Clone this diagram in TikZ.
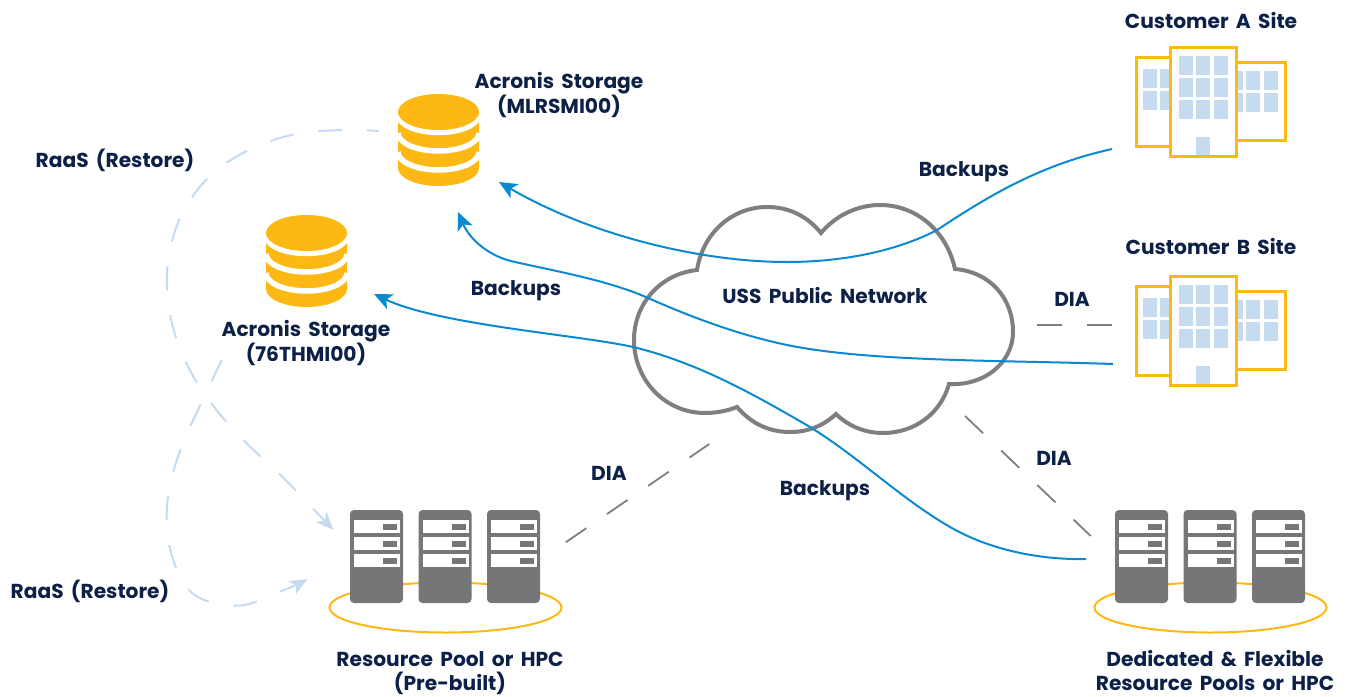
\documentclass[tikz,border=0pt]{standalone}
\usepackage{fontspec}
\setmainfont{Poppins}[UprightFont=*,BoldFont=* Bold,WordSpace=1.7]
\usetikzlibrary{arrows.meta}
\definecolor{navy}{HTML}{0D2148}
\definecolor{goldc}{HTML}{FDB813}
\definecolor{paleb}{HTML}{C6DAF0}
\definecolor{blueline}{HTML}{0A8AD0}
\definecolor{rackg}{HTML}{767678}
\definecolor{cloudg}{HTML}{7F7F7F}
\tikzset{
  x=1pt,y=-1pt,
  lab/.style={text=navy,font=\fontsize{20.2}{25}\selectfont\bfseries,align=center,inner sep=0pt,anchor=base},
  bluecurve/.style={draw=blueline,line width=2pt,-{Stealth[length=18pt,width=16pt,inset=4.5pt]}},
  palecurve/.style={draw=paleb,line width=2pt,dash pattern=on 24pt off 25pt,-{Stealth[length=18pt,width=15pt,inset=5pt]}},
  diaLine/.style={draw=cloudg,line width=1.8pt,dash pattern=on 25pt off 25pt},
  win/.style={fill=paleb,draw=none},
  pics/bld/.style={code={
    \draw[goldc,line width=3pt,fill=white] (-34,10) rectangle (0,99);
    \draw[goldc,line width=3pt,fill=white] (66,15) rectangle (115,93);
    \foreach \xx in {-27,-10}\foreach \yy in {22,44}\fill[win] (\xx,\yy) rectangle ++(14,19);
    \foreach \xx in {59,76,94}\foreach \yy in {24,46}\fill[win] (\xx,\yy) rectangle ++(14,19);
    \draw[goldc,line width=3pt,fill=white] (0,0) rectangle (66,109);
    \foreach \xx in {9,26,44}\foreach \yy in {9,31,53}\fill[win] (\xx,\yy) rectangle ++(14,19);
    \fill[win] (26,90) rectangle ++(14,18);
  }},
  pics/rack/.style={code={
    \fill[rackg,rounded corners=4pt] (0,0) rectangle (53,93);
    \foreach \yy in {10,27,44}{
      \fill[white] (4,\yy) rectangle ++(46,13);
      \fill[rackg] (33,\yy+4) rectangle ++(14,6);
    }
  }},
  pics/pool/.style={code={
    \draw[goldc,line width=2pt] (95.5,97.5) ellipse [x radius=116,y radius=25];
    \pic at (0,0) {rack};
    \pic at (68.5,0) {rack};
    \pic at (137,0) {rack};
  }},
  pics/cyl/.style={code={
    \fill[goldc] (-40.5,18) -- (-40.5,74) arc[start angle=180,end angle=0,x radius=40.5,y radius=18] -- (40.5,18) -- cycle;
    \foreach \yy in {20.5,39,58}
      \draw[white,line width=5.5pt] (-40.5,\yy) arc[start angle=180,end angle=0,x radius=40.5,y radius=18];
    \fill[goldc] (0,18) ellipse [x radius=40.5,y radius=18];
  }},
}
\begin{document}
\begin{tikzpicture}
\useasboundingbox (0,0) rectangle (1348,696);
% cloud
\draw[cloudg,line width=4pt,miter limit=10]
  (697,270) .. controls (703,232) and (733,207) .. (767,207)
  .. controls (790,207) and (808,217) .. (821,233)
  .. controls (835,216) and (857,205) .. (880,205)
  .. controls (917,205) and (947,232) .. (955,269)
  .. controls (990,272) and (1013,298) .. (1013,332)
  .. controls (1013,362) and (985,386) .. (949,384)
  .. controls (941,413) and (915,433) .. (883,433)
  .. controls (865,433) and (848,426) .. (836,414)
  .. controls (823,426) and (808,432) .. (790,432)
  .. controls (767,432) and (750,422) .. (737,407)
  .. controls (727,411) and (716,413) .. (705,413)
  .. controls (665,413) and (634,380) .. (634,340)
  .. controls (634,304) and (660,274) .. (697,270) -- cycle;
% pictograms
\pic (bldA) at (1170,47) {bld};
\pic (bldB) at (1170,276) {bld};
\pic (poolL) at (350,510) {pool};
\pic (poolR) at (1115,510) {pool};
\pic (cylM) at (438.5,94) {cyl};
\pic (cyl7) at (306.5,215) {cyl};
% labels
\node[lab] (tA) at (1211,28) {Customer A Site};
\node[lab] (tB) at (1211,254) {Customer B Site};
\node[lab] (tM) at (559,113) {Acronis Storage\\(MLRSMI00)};
\node[lab] (t7) at (306,361) {Acronis Storage\\(76THMI00)};
\node[lab] (r1) at (115,167) {RaaS (Restore)};
\node[lab] (r2) at (90,598) {RaaS (Restore)};
\node[lab] (b1) at (964,176) {Backups};
\node[lab] (b2) at (516,295) {Backups};
\node[lab] (b3) at (825,495) {Backups};
\node[lab] (d1) at (609,480) {DIA};
\node[lab] (d2) at (1072,306) {DIA};
\node[lab] (d3) at (1054,465) {DIA};
\node[lab] (uss) at (825,303) {USS Public Network};
\node[lab] (tL) at (450,690) {Resource Pool or HPC\\[-1pt](Pre-built)};
\node[lab] (tR) at (1215,690) {Dedicated \& Flexible\\[-1pt]Resource Pools or HPC};
% connector ends
\coordinate (aOut) at (1112,149);
\coordinate (mIn1) at (499,182);
\coordinate (bOut) at (1113,364);
\coordinate (mIn2) at (458,212);
\coordinate (rOut) at (1086,559);
\coordinate (sIn) at (374,294);
\coordinate (mRaas) at (379,131);
\coordinate (pIn1) at (333.5,530);
\coordinate (sRaas) at (221.7,360);
\coordinate (pIn2) at (307.7,579);
\coordinate (d1a) at (565.7,542.3);
\coordinate (d1b) at (709.3,444);
\coordinate (d2a) at (965,416);
\coordinate (d2b) at (1090.7,536);
\coordinate (d3a) at (1037.3,324.7);
\coordinate (d3b) at (1112.3,324.7);
% blue connectors
\draw[bluecurve] (aOut) .. controls (1040,165) and (990,195) .. (937,230)
  .. controls (895,252) and (840,262) .. (787,262)
  .. controls (700,262) and (590,235) .. (mIn1);
\draw[bluecurve] (bOut) .. controls (1000,360) and (870,362) .. (787,345)
  .. controls (730,333) and (680,312) .. (648,298)
  .. controls (610,281) and (560,272) .. (515,262)
  .. controls (490,257) and (470,240) .. (mIn2);
\draw[bluecurve] (rOut) .. controls (1040,560) and (990,550) .. (950,527)
  .. controls (900,498) and (860,458) .. (810,427)
  .. controls (760,398) and (700,363) .. (633,347)
  .. controls (580,335) and (440,325) .. (sIn);
% pale connectors
\draw[palecurve,dash phase=12pt] plot[smooth,tension=0.6] coordinates {(mRaas) (341.7,130) (292.7,134.7) (246,151.3) (206,180) (179,220.7) (167.3,268.7) (170.7,317.7) (186.7,364) (213.3,406) (246.7,443.3) (282.3,476.7) (pIn1)};
\draw[palecurve] plot[smooth,tension=0.6] coordinates {(sRaas) (200,405.7) (180,450.7) (167.7,499.3) (170,548.7) (191.7,592.7) (238.3,605.7) (285.7,589.3) (pIn2)};
% DIA
\draw[diaLine] (d1a) -- (d1b);
\draw[diaLine] (d2a) -- (d2b);
\draw[diaLine] (d3a) -- (d3b);
\end{tikzpicture}
\end{document}
